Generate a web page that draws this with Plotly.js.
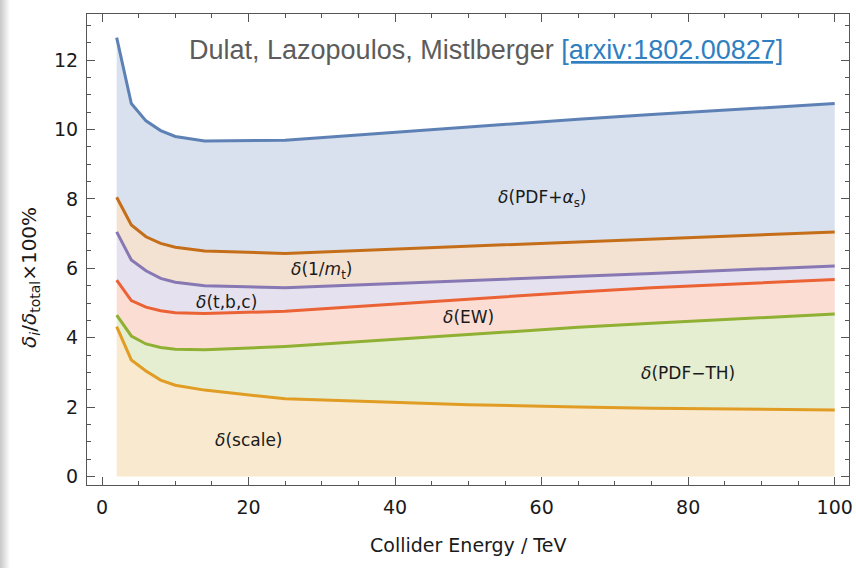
<!DOCTYPE html>
<html>
<head>
<meta charset="utf-8">
<script src="https://cdn.plot.ly/plotly-3.0.1.min.js"></script>
<style>
  html, body { margin: 0; padding: 0; background: #ffffff; }
  #wrap { position: relative; width: 856px; height: 568px; }
  #chart { width: 856px; height: 568px; }
  #edge { position: absolute; left: 0; top: 0; width: 10px; height: 568px; pointer-events: none;
          background: linear-gradient(to right, rgba(0,0,0,0.22), rgba(0,0,0,0)); }
</style>
</head>
<body>
<div id="wrap">
  <div id="chart"></div>
  <div id="edge"></div>
</div>
<script>
// Collider energies (TeV) at which the uncertainty breakdown is evaluated
const energy = [2, 4, 6, 8, 10, 14, 25, 50, 65, 75, 100];

// Cumulative contributions delta_i / delta_total x 100% (stacked boundaries)
const scaleTop  = [4.32, 3.36, 3.04, 2.78, 2.63, 2.49, 2.24, 2.07, 2.00, 1.97, 1.92];
const pdfThTop  = [4.65, 4.05, 3.82, 3.72, 3.67, 3.65, 3.75, 4.10, 4.30, 4.42, 4.68];
const ewTop     = [5.66, 5.07, 4.88, 4.78, 4.72, 4.70, 4.76, 5.12, 5.32, 5.44, 5.68];
const tbcTop    = [7.05, 6.24, 5.93, 5.71, 5.60, 5.50, 5.44, 5.64, 5.77, 5.85, 6.07];
const invMtTop  = [8.05, 7.25, 6.91, 6.72, 6.61, 6.50, 6.43, 6.63, 6.75, 6.83, 7.05];
const pdfAsTop  = [12.65, 10.75, 10.25, 9.97, 9.80, 9.67, 9.69, 10.08, 10.30, 10.43, 10.75];

const bands = [
  { y: scaleTop, line: '#E19C24', fill: 'rgba(225,156,36,0.22)', mode: 'tozeroy' },
  { y: pdfThTop, line: '#8FB032', fill: 'rgba(143,176,50,0.22)', mode: 'tonexty' },
  { y: ewTop,    line: '#EB6235', fill: 'rgba(235,98,53,0.22)',  mode: 'tonexty' },
  { y: tbcTop,   line: '#8778B3', fill: 'rgba(135,120,179,0.22)', mode: 'tonexty' },
  { y: invMtTop, line: '#C56E1A', fill: 'rgba(197,110,26,0.20)', mode: 'tonexty' },
  { y: pdfAsTop, line: '#5E81B5', fill: 'rgba(94,129,181,0.24)', mode: 'tonexty' }
];

const traces = bands.map(b => ({
  x: energy,
  y: b.y,
  type: 'scatter',
  mode: 'lines',
  line: { color: b.line, width: 3, shape: 'linear' },
  fill: b.mode,
  fillcolor: b.fill,
  hoverinfo: 'skip',
  showlegend: false
}));

// Band labels
const labelText = ['<i>δ</i>(PDF+<i>α</i><sub>s</sub>)', '<i>δ</i>(1/<i>m</i><sub>t</sub>)',
                   '<i>δ</i>(t,b,c)', '<i>δ</i>(EW)', '<i>δ</i>(PDF−TH)', '<i>δ</i>(scale)'];
const labelX = [60, 30, 17, 50, 80, 20];
const labelY = [8.0, 5.95, 5.03, 4.6, 2.98, 1.05];

const annotations = labelText.map((t, i) => ({
  x: labelX[i], y: labelY[i], xref: 'x', yref: 'y', xanchor: 'center', yanchor: 'middle',
  text: t, showarrow: false,
  font: { family: 'DejaVu Sans', size: 17, color: '#1a1a1a' }
}));

const W = 856, H = 568, M = { l: 87, r: 7, t: 14, b: 83 };
const pw = W - M.l - M.r, ph = H - M.t - M.b;
const px = v => (v - M.l) / pw;      // pixel column -> paper x
const py = v => 1 - (v - M.t) / ph;  // pixel row -> paper y

annotations.push({
  x: px(486), y: py(50), xref: 'paper', yref: 'paper', xanchor: 'center', yanchor: 'middle',
  text: 'Dulat, Lazopoulos, Mistlberger <a href="https://arxiv.org/abs/1802.00827" style="color:#2f7fc1"><u>[arxiv:1802.00827]</u></a>',
  showarrow: false,
  font: { family: 'Liberation Sans Narrow, Liberation Sans, sans-serif', size: 27, color: '#5c5c5c' }
});

annotations.push({
  x: px(30), y: py(277), xref: 'paper', yref: 'paper', xanchor: 'center', yanchor: 'middle',
  text: '<i>δ</i><sub><i>i</i></sub>/<i>δ</i><sub>total</sub>×100%',
  textangle: -90, showarrow: false,
  font: { family: 'DejaVu Sans', size: 20, color: '#1a1a1a' }
});

annotations.push({
  x: px(468), y: py(545), xref: 'paper', yref: 'paper', xanchor: 'center', yanchor: 'middle',
  text: 'Collider Energy / TeV', showarrow: false,
  font: { family: 'DejaVu Sans', size: 19, color: '#1a1a1a' }
});

const axisCommon = {
  showgrid: false, zeroline: false,
  showline: true, linecolor: '#555', linewidth: 1,
  mirror: 'allticks',
  ticks: 'inside', ticklen: 8, tickwidth: 1, tickcolor: '#555',
  tickfont: { family: 'DejaVu Sans', size: 19, color: '#1a1a1a' }
};

const layout = {
  width: W, height: H,
  margin: M,
  paper_bgcolor: '#ffffff', plot_bgcolor: '#ffffff',
  xaxis: Object.assign({}, axisCommon, {
    range: [-2.05, 101.95], tick0: 0, dtick: 20,
    minor: { dtick: 5, ticks: 'inside', ticklen: 4, tickcolor: '#555', showgrid: false },
    ticklabelstandoff: 5
  }),
  yaxis: Object.assign({}, axisCommon, {
    range: [-0.245, 13.33], tick0: 0, dtick: 2,
    minor: { dtick: 0.5, ticks: 'inside', ticklen: 4, tickcolor: '#555', showgrid: false },
    ticklabelstandoff: 4
  }),
  annotations: annotations
};

Plotly.newPlot('chart', traces, layout, { staticPlot: true, displayModeBar: false });
</script>
</body>
</html>
